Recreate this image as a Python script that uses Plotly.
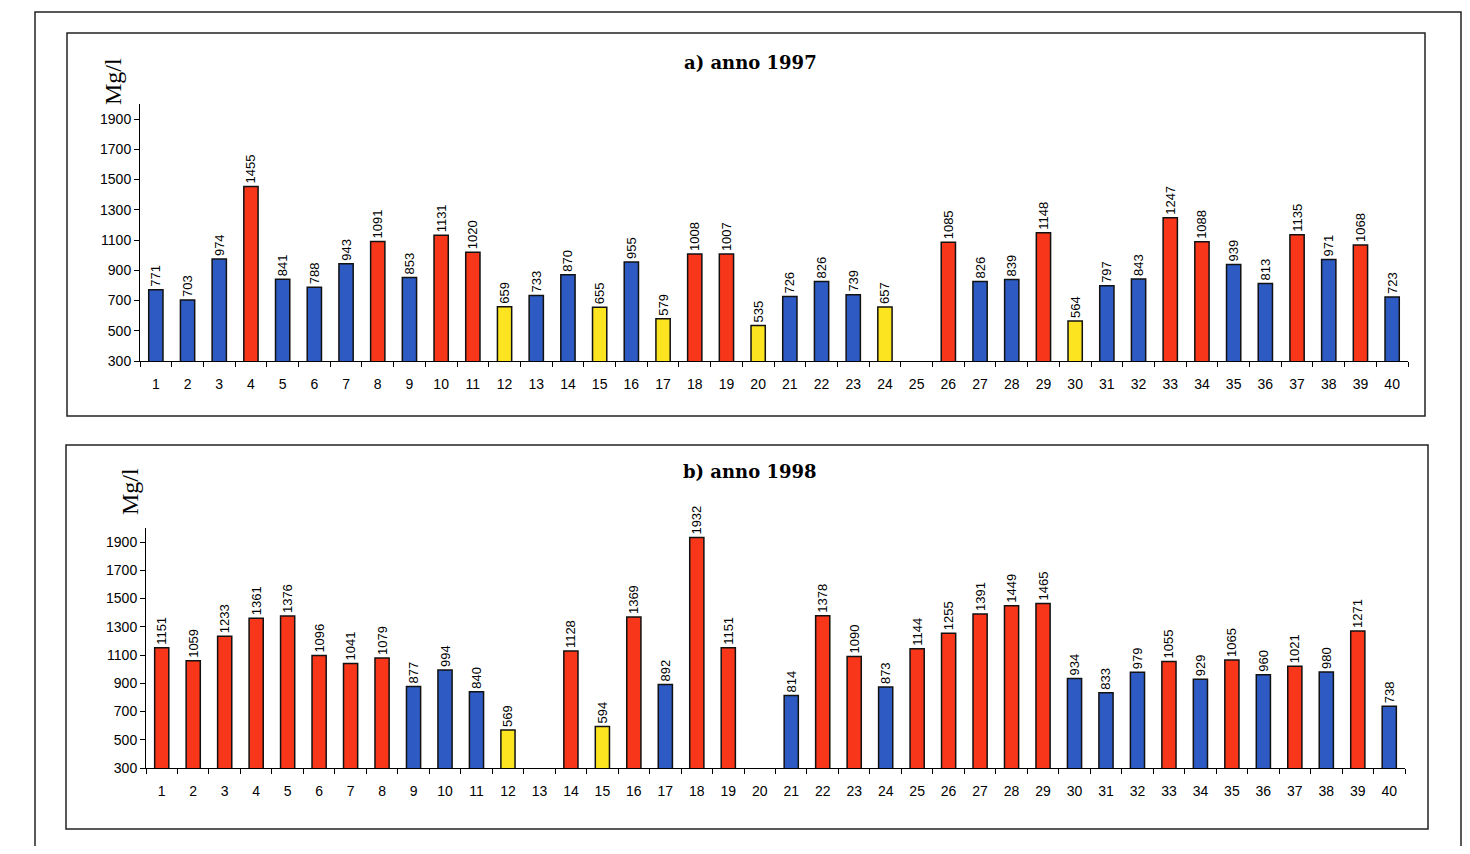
import plotly.graph_objects as go

stations = [str(i) for i in range(1, 41)]
values_1997 = [771, 703, 974, 1455, 841, 788, 943, 1091, 853, 1131,
               1020, 659, 733, 870, 655, 955, 579, 1008, 1007, 535,
               726, 826, 739, 657, None, 1085, 826, 839, 1148, 564,
               797, 843, 1247, 1088, 939, 813, 1135, 971, 1068, 723]
values_1998 = [1151, 1059, 1233, 1361, 1376, 1096, 1041, 1079, 877, 994,
               840, 569, None, 1128, 594, 1369, 892, 1932, 1151, None,
               814, 1378, 1090, 873, 1144, 1255, 1391, 1449, 1465, 934,
               833, 979, 1055, 929, 1065, 960, 1021, 980, 1271, 738]
y_ticks = [300, 500, 700, 900, 1100, 1300, 1500, 1700, 1900]

BLUE, RED, YELLOW = "#2d5bc3", "#f8361a", "#fce420"
OFF = 8  # page body margin
W, H = 1470 - 2 * OFF, 854 - 2 * OFF


def colour(v):
    if v is None:
        return BLUE
    if v < 700:
        return YELLOW
    if v > 1000:
        return RED
    return BLUE


def px_x(x):
    return (x - OFF) / W


def px_y(y):
    return (H - (y - OFF)) / H


fig = go.Figure()
for vals, xa, ya in [(values_1997, "x", "y"), (values_1998, "x2", "y2")]:
    fig.add_trace(go.Bar(
        x=stations, y=vals, xaxis=xa, yaxis=ya,
        marker=dict(color=[colour(v) for v in vals], line=dict(color="#111", width=1.5)),
        width=0.45,
        text=[("" if v is None else str(v)) for v in vals],
        textposition="outside", textangle=-90, constraintext="none",
        textfont=dict(family="Arial, Liberation Sans, sans-serif", size=13, color="black"),
        cliponaxis=False, showlegend=False,
    ))

axis_font = dict(family="Arial, Liberation Sans, sans-serif", size=14, color="black")
xcommon = dict(type="category", showline=True, linecolor="black", linewidth=1,
               ticks="outside", tickson="boundaries", ticklen=5, tickcolor="black",
               ticklabelstandoff=10,
               tickfont=axis_font, showgrid=False, zeroline=False)
ycommon = dict(range=[300, 2000], tickvals=y_ticks, showline=True, linecolor="black",
               linewidth=1, ticks="outside", ticklen=5, tickcolor="black",
               tickfont=axis_font, showgrid=False, zeroline=False)

fig.update_layout(
    width=W, height=H, margin=dict(l=0, r=0, t=0, b=0, autoexpand=False),
    paper_bgcolor="white", plot_bgcolor="white", bargap=0.5,
    xaxis=dict(domain=[px_x(140), px_x(1408)], anchor="y", **xcommon),
    yaxis=dict(domain=[px_y(361), px_y(104)], anchor="x", **ycommon),
    xaxis2=dict(domain=[px_x(146), px_x(1405)], anchor="y2", **xcommon),
    yaxis2=dict(domain=[px_y(768), px_y(528)], anchor="x2", **ycommon),
)

serif = "DejaVu Serif, Liberation Serif, serif"
serif2 = "Liberation Serif, Times New Roman, serif"
ann = dict(xref="paper", yref="paper", showarrow=False, xanchor="center", yanchor="middle")
fig.add_annotation(text="<b>a) anno 1997</b>", x=px_x(750), y=px_y(63),
                   font=dict(family=serif, size=18, color="black"), **ann)
fig.add_annotation(text="<b>b) anno 1998</b>", x=px_x(750), y=px_y(472),
                   font=dict(family=serif, size=18, color="black"), **ann)
fig.add_annotation(text="Mg/l", x=px_x(113), y=px_y(82), textangle=-90,
                   font=dict(family=serif2, size=24, color="black"), **ann)
fig.add_annotation(text="Mg/l", x=px_x(130), y=px_y(492), textangle=-90,
                   font=dict(family=serif2, size=24, color="black"), **ann)

# frames
fig.add_shape(type="rect", xref="paper", yref="paper", x0=px_x(35), y0=px_y(870), x1=px_x(1461), y1=px_y(12),
              line=dict(color="#222", width=1.5))
fig.add_shape(type="rect", xref="paper", yref="paper", x0=px_x(67), y0=px_y(416), x1=px_x(1425), y1=px_y(33),
              line=dict(color="#222", width=1.5))
fig.add_shape(type="rect", xref="paper", yref="paper", x0=px_x(66), y0=px_y(829), x1=px_x(1428), y1=px_y(445),
              line=dict(color="#222", width=1.5))

fig.write_html("out.html")
